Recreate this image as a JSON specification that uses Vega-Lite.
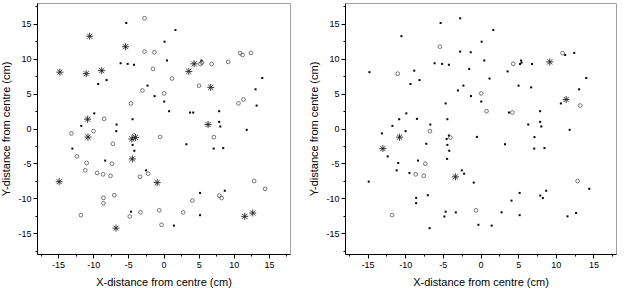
{
  "$schema": "https://vega.github.io/schema/vega-lite/v6.json",
  "padding": {"left": 0, "top": 1, "right": 3, "bottom": 0},
  "spacing": 17,
  "config": {
    "view": {"stroke": "#a0a0a0", "strokeWidth": 1},
    "axis": {
      "domainColor": "black", "domainWidth": 1, "tickColor": "black", "tickWidth": 1,
      "labelFont": "Liberation Sans", "labelFontSize": 9, "labelColor": "black",
      "titleFont": "Liberation Sans", "titleFontSize": 11, "titleFontWeight": "normal", "titleColor": "black",
      "grid": false, "labelPadding": 2, "labelOverlap": false
    }
  },
  "data": {"values": [
    {"x": -5.3, "y": 15.14, "L": "d", "R": "d"},
    {"x": -2.7, "y": 15.81, "L": "o", "R": "d"},
    {"x": 1.7, "y": 14.12, "L": "d", "R": "d"},
    {"x": -10.5, "y": 13.24, "L": "a", "R": "d"},
    {"x": 0.15, "y": 12.45, "L": "d", "R": "d"},
    {"x": -5.4, "y": 11.73, "L": "a", "R": "o"},
    {"x": -2.7, "y": 11.03, "L": "o", "R": "d"},
    {"x": -1.3, "y": 10.93, "L": "o", "R": "d"},
    {"x": 0.5, "y": 9.76, "L": "d", "R": "d"},
    {"x": -6.1, "y": 9.36, "L": "d", "R": "d"},
    {"x": -5.1, "y": 9.27, "L": "d", "R": "d"},
    {"x": -4.2, "y": 9.14, "L": "d", "R": "d"},
    {"x": -14.75, "y": 8.08, "L": "a", "R": "d"},
    {"x": -11.0, "y": 7.86, "L": "a", "R": "o"},
    {"x": -8.8, "y": 8.3, "L": "a", "R": "d"},
    {"x": -8.1, "y": 6.95, "L": "d", "R": "d"},
    {"x": -9.3, "y": 6.38, "L": "d", "R": "d"},
    {"x": -1.5, "y": 8.55, "L": "o", "R": "d"},
    {"x": -2.27, "y": 6.15, "L": "d", "R": "d"},
    {"x": -3.0, "y": 5.45, "L": "o", "R": "d"},
    {"x": -1.27, "y": 4.65, "L": "d", "R": "d"},
    {"x": 1.2, "y": 7.17, "L": "o", "R": "d"},
    {"x": 0.1, "y": 3.86, "L": "d", "R": "d"},
    {"x": -4.63, "y": 3.6, "L": "o", "R": "d"},
    {"x": 3.6, "y": 8.19, "L": "a", "R": "d"},
    {"x": 4.35, "y": 9.28, "L": "a", "R": "o"},
    {"x": 5.25, "y": 9.25, "L": "o", "R": "d"},
    {"x": 5.45, "y": 9.45, "L": "o", "R": "d"},
    {"x": 5.4, "y": 9.75, "L": "d", "R": "d"},
    {"x": 6.85, "y": 9.25, "L": "o", "R": "d"},
    {"x": 9.2, "y": 9.55, "L": "o", "R": "a"},
    {"x": 10.9, "y": 10.81, "L": "o", "R": "o"},
    {"x": 11.25, "y": 10.55, "L": "o", "R": "d"},
    {"x": 12.45, "y": 10.84, "L": "o", "R": "d"},
    {"x": 14.05, "y": 7.24, "L": "d", "R": "d"},
    {"x": 13.1, "y": 5.62, "L": "d", "R": "d"},
    {"x": 5.06, "y": 6.14, "L": "o", "R": "d"},
    {"x": 6.73, "y": 5.9, "L": "a", "R": "d"},
    {"x": 10.67, "y": 3.6, "L": "o", "R": "d"},
    {"x": 11.38, "y": 4.16, "L": "o", "R": "a"},
    {"x": 13.25, "y": 3.29, "L": "d", "R": "o"},
    {"x": 11.84, "y": -0.19, "L": "d", "R": "d"},
    {"x": 7.92, "y": 2.48, "L": "d", "R": "d"},
    {"x": 7.92, "y": 0.95, "L": "d", "R": "d"},
    {"x": 8.08, "y": 0.29, "L": "d", "R": "d"},
    {"x": 6.34, "y": 0.57, "L": "a", "R": "d"},
    {"x": 7.17, "y": -1.24, "L": "o", "R": "d"},
    {"x": 3.78, "y": 2.29, "L": "d", "R": "d"},
    {"x": 4.23, "y": 2.29, "L": "d", "R": "o"},
    {"x": -0.48, "y": -1.2, "L": "o", "R": "d"},
    {"x": 3.25, "y": -2.26, "L": "d", "R": "d"},
    {"x": 0.8, "y": 2.48, "L": "d", "R": "o"},
    {"x": 0.1, "y": 5.03, "L": "o", "R": "o"},
    {"x": -9.85, "y": 2.17, "L": "d", "R": "d"},
    {"x": -10.8, "y": 1.33, "L": "a", "R": "d"},
    {"x": -8.45, "y": 1.38, "L": "o", "R": "d"},
    {"x": -11.7, "y": 0.38, "L": "d", "R": "d"},
    {"x": -13.1, "y": -0.71, "L": "o", "R": "d"},
    {"x": -9.95, "y": -0.38, "L": "o", "R": "d"},
    {"x": -10.75, "y": -1.24, "L": "a", "R": "a"},
    {"x": -6.67, "y": 0.57, "L": "d", "R": "d"},
    {"x": -6.72, "y": -0.38, "L": "d", "R": "o"},
    {"x": -4.4, "y": 1.33, "L": "d", "R": "d"},
    {"x": -4.5, "y": -1.5, "L": "a", "R": "d"},
    {"x": -4.0, "y": -1.3, "L": "a", "R": "o"},
    {"x": -4.2, "y": -1.0, "L": "o", "R": "d"},
    {"x": -7.2, "y": -2.19, "L": "o", "R": "d"},
    {"x": -4.4, "y": -2.35, "L": "d", "R": "d"},
    {"x": -4.15, "y": -3.19, "L": "d", "R": "d"},
    {"x": -12.97, "y": -2.88, "L": "d", "R": "a"},
    {"x": -12.33, "y": -4.0, "L": "o", "R": "d"},
    {"x": -10.93, "y": -4.95, "L": "o", "R": "d"},
    {"x": -11.13, "y": -6.0, "L": "o", "R": "d"},
    {"x": -9.44, "y": -6.38, "L": "o", "R": "d"},
    {"x": -8.3, "y": -4.6, "L": "d", "R": "d"},
    {"x": -4.43, "y": -4.36, "L": "a", "R": "d"},
    {"x": -2.48, "y": -6.0, "L": "d", "R": "d"},
    {"x": -2.18, "y": -6.48, "L": "o", "R": "d"},
    {"x": -0.9, "y": -7.76, "L": "a", "R": "d"},
    {"x": -14.85, "y": -7.62, "L": "a", "R": "d"},
    {"x": -7.0, "y": -9.57, "L": "o", "R": "d"},
    {"x": -8.55, "y": -9.95, "L": "o", "R": "d"},
    {"x": -8.55, "y": -10.71, "L": "o", "R": "d"},
    {"x": -6.76, "y": -14.29, "L": "a", "R": "d"},
    {"x": -4.8, "y": -12.62, "L": "o", "R": "d"},
    {"x": -4.63, "y": -11.93, "L": "d", "R": "d"},
    {"x": -3.28, "y": -12.03, "L": "o", "R": "d"},
    {"x": -0.28, "y": -13.81, "L": "o", "R": "d"},
    {"x": 1.48, "y": -13.93, "L": "d", "R": "d"},
    {"x": 2.8, "y": -12.03, "L": "o", "R": "d"},
    {"x": 4.12, "y": -10.34, "L": "o", "R": "d"},
    {"x": 5.2, "y": -9.24, "L": "d", "R": "d"},
    {"x": 5.2, "y": -12.43, "L": "d", "R": "d"},
    {"x": 7.94, "y": -9.62, "L": "o", "R": "d"},
    {"x": 8.28, "y": -9.98, "L": "o", "R": "d"},
    {"x": 8.72, "y": -8.93, "L": "d", "R": "d"},
    {"x": 7.14, "y": -2.88, "L": "d", "R": "d"},
    {"x": 8.5, "y": -2.81, "L": "d", "R": "d"},
    {"x": 11.56, "y": -12.6, "L": "a", "R": "d"},
    {"x": 12.7, "y": -12.12, "L": "a", "R": "d"},
    {"x": 14.45, "y": -8.65, "L": "o", "R": "d"},
    {"x": -7.33, "y": -5.05, "L": "o", "R": "o"},
    {"x": -8.6, "y": -6.57, "L": "o", "R": "o"},
    {"x": -7.54, "y": -6.79, "L": "o", "R": "o"},
    {"x": -11.75, "y": -12.43, "L": "o", "R": "o"},
    {"x": -0.6, "y": -11.74, "L": "o", "R": "o"},
    {"x": 12.9, "y": -7.53, "L": "o", "R": "o"},
    {"x": -3.33, "y": -6.93, "L": "o", "R": "a"}
  ]},
  "hconcat": [
    {
      "width": 253, "height": 251,
      "encoding": {
        "x": {"field": "x", "type": "quantitative", "scale": {"domain": [-18, 18], "nice": false, "zero": false},
          "axis": {"title": "X-distance from centre (cm)", "values": [-17.5, -15, -12.5, -10, -7.5, -5, -2.5, 0, 2.5, 5, 7.5, 10, 12.5, 15, 17.5],
            "labelExpr": "datum.value % 5 === 0 ? toString(datum.value) : ''",
            "tickSize": {"condition": {"test": "datum.value % 5 === 0", "value": 4}, "value": 2}, "titlePadding": 7}},
        "y": {"field": "y", "type": "quantitative", "scale": {"domain": [-18, 18], "nice": false, "zero": false},
          "axis": {"title": "Y-distance from centre (cm)", "values": [-17.5, -15, -12.5, -10, -7.5, -5, -2.5, 0, 2.5, 5, 7.5, 10, 12.5, 15, 17.5],
            "labelExpr": "datum.value % 5 === 0 ? toString(datum.value) : ''",
            "tickSize": {"condition": {"test": "datum.value % 5 === 0", "value": 4}, "value": 2}, "titlePadding": 6}}
      },
      "layer": [
        {"transform": [{"filter": "datum.L === 'd'"}], "mark": {"type": "point", "shape": "square", "filled": true, "size": 4, "color": "black", "opacity": 1}},
        {"transform": [{"filter": "datum.L === 'o'"}], "mark": {"type": "point", "shape": "circle", "filled": false, "size": 14, "strokeWidth": 0.6, "color": "#222222", "opacity": 1}},
        {"transform": [{"filter": "datum.L === 'a'"}], "mark": {"type": "point", "shape": "M-1,0L1,0M0,-1L0,1M-0.72,-0.72L0.72,0.72M-0.72,0.72L0.72,-0.72", "filled": false, "size": 49, "strokeWidth": 0.9, "color": "#222222", "opacity": 1}}
      ]
    },
    {
      "width": 271, "height": 251,
      "encoding": {
        "x": {"field": "x", "type": "quantitative", "scale": {"domain": [-18, 18], "nice": false, "zero": false},
          "axis": {"title": "X-distance from centre (cm)", "values": [-17.5, -15, -12.5, -10, -7.5, -5, -2.5, 0, 2.5, 5, 7.5, 10, 12.5, 15, 17.5],
            "labelExpr": "datum.value % 5 === 0 ? toString(datum.value) : ''",
            "tickSize": {"condition": {"test": "datum.value % 5 === 0", "value": 4}, "value": 2}, "titlePadding": 7}},
        "y": {"field": "y", "type": "quantitative", "scale": {"domain": [-18, 18], "nice": false, "zero": false},
          "axis": {"title": "Y-distance from centre (cm)", "values": [-17.5, -15, -12.5, -10, -7.5, -5, -2.5, 0, 2.5, 5, 7.5, 10, 12.5, 15, 17.5],
            "labelExpr": "datum.value % 5 === 0 ? toString(datum.value) : ''",
            "tickSize": {"condition": {"test": "datum.value % 5 === 0", "value": 4}, "value": 2}, "titlePadding": 6}}
      },
      "layer": [
        {"transform": [{"filter": "datum.R === 'd'"}], "mark": {"type": "point", "shape": "square", "filled": true, "size": 4, "color": "black", "opacity": 1}},
        {"transform": [{"filter": "datum.R === 'o'"}], "mark": {"type": "point", "shape": "circle", "filled": false, "size": 14, "strokeWidth": 0.6, "color": "#222222", "opacity": 1}},
        {"transform": [{"filter": "datum.R === 'a'"}], "mark": {"type": "point", "shape": "M-1,0L1,0M0,-1L0,1M-0.72,-0.72L0.72,0.72M-0.72,0.72L0.72,-0.72", "filled": false, "size": 49, "strokeWidth": 0.9, "color": "#222222", "opacity": 1}}
      ]
    }
  ]
}
